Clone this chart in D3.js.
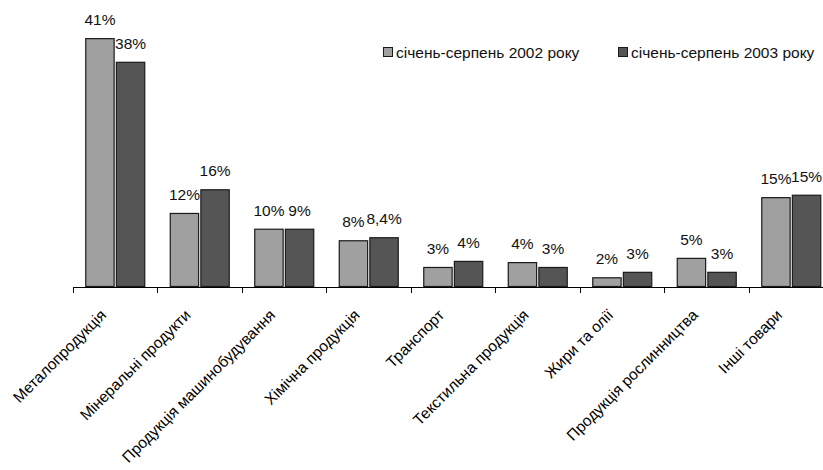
<!DOCTYPE html>
<html>
<head>
<meta charset="utf-8">
<script src="https://cdn.jsdelivr.net/npm/d3@7"></script>
<style>
  body { margin: 0; background: #fff; }
  svg { display: block; font-family: "Liberation Sans", Arial, sans-serif; }
</style>
</head>
<body>
<div id="chart"></div>
<script>
const categories = [
  "Металопродукція", "Мінеральні продукти", "Продукція машинобудування",
  "Хімічна продукція", "Транспорт", "Текстильна продукція",
  "Жири та олії", "Продукція рослинництва", "Інші товари"
];
const series = ["січень-серпень 2002 року", "січень-серпень 2003 року"];
const values2002 = [41, 12.2, 9.6, 7.7, 3.3, 4.1, 1.6, 4.8, 14.8];
const values2003 = [37.1, 16.1, 9.6, 8.2, 4.3, 3.3, 2.5, 2.5, 15.2];
const labels2002 = ["41%", "12%", "10%", "8%", "3%", "4%", "2%", "5%", "15%"];
const labels2003 = ["38%", "16%", "9%", "8,4%", "4%", "3%", "3%", "3%", "15%"];

const width = 823, height = 470;
const colors = ["#a0a0a0", "#555555"];

const svg = d3.select('#chart').append('svg')
  .attr('width', width)
  .attr('height', height);

const axisY = 287;
const x0 = d3.scaleBand()
  .domain(categories)
  .range([73, 833.5])
  .paddingInner(0.29)
  .paddingOuter(0.145);

const x1 = d3.scaleBand()
  .domain(series)
  .range([0, x0.bandwidth()])
  .paddingInner(0.04);

const y = d3.scaleLinear()
  .domain([0, 45])
  .range([axisY, axisY - 45 * 6.07]);

const rows = categories.map((c, i) => ({
  cat: c,
  vals: [
    { s: series[0], v: values2002[i], label: labels2002[i] },
    { s: series[1], v: values2003[i], label: labels2003[i] }
  ]
}));

const groups = svg.selectAll('.grp').data(rows).enter().append('g')
  .attr('class', 'grp')
  .attr('transform', d => `translate(${x0(d.cat)},0)`);

groups.selectAll('rect').data(d => d.vals).enter().append('rect')
  .attr('x', d => x1(d.s) + 0.5)
  .attr('y', d => y(d.v) + 0.5)
  .attr('width', x1.bandwidth() - 1)
  .attr('height', d => y(0) - y(d.v) - 1)
  .attr('fill', (d, i) => colors[i])
  .attr('stroke', '#1a1a1a')
  .attr('stroke-width', 1.2);

groups.selectAll('.val').data(d => d.vals).enter().append('text')
  .attr('class', 'val')
  .attr('x', d => x1(d.s) + x1.bandwidth() / 2)
  .attr('y', d => y(d.v) - 13)
  .attr('text-anchor', 'middle')
  .attr('font-size', 15.5)
  .attr('fill', '#111')
  .text(d => d.label);

// axis
const step = x0.step();
const edge = step * x0.paddingInner() / 2;
svg.append('line')
  .attr('x1', 73).attr('x2', width)
  .attr('y1', axisY + 0.5).attr('y2', axisY + 0.5)
  .attr('stroke', '#000');

svg.selectAll('.tick').data(categories).enter().append('line')
  .attr('class', 'tick')
  .attr('x1', d => Math.round(x0(d) - edge) + 0.5)
  .attr('x2', d => Math.round(x0(d) - edge) + 0.5)
  .attr('y1', axisY)
  .attr('y2', axisY + 6)
  .attr('stroke', '#000');

svg.selectAll('.cat').data(categories).enter().append('text')
  .attr('class', 'cat')
  .attr('text-anchor', 'end')
  .attr('font-size', 15.5)
  .attr('fill', '#000')
  .attr('transform', d => `translate(${x0(d) + x0.bandwidth() / 2 - 8},${axisY + 29}) rotate(-45)`)
  .text(d => d);

// legend
const legend = svg.append('g').attr('transform', 'translate(383,47)');
const legendX = [0, 235];
series.forEach((s, i) => {
  const g = legend.append('g').attr('transform', `translate(${legendX[i]},0)`);
  g.append('rect')
    .attr('x', 0.5).attr('y', 0.5)
    .attr('width', 9).attr('height', 9)
    .attr('fill', colors[i])
    .attr('stroke', '#1a1a1a');
  g.append('text')
    .attr('x', 13)
    .attr('y', 11)
    .attr('font-size', 15.5)
    .attr('fill', '#111')
    .text(s);
});
</script>
</body>
</html>
